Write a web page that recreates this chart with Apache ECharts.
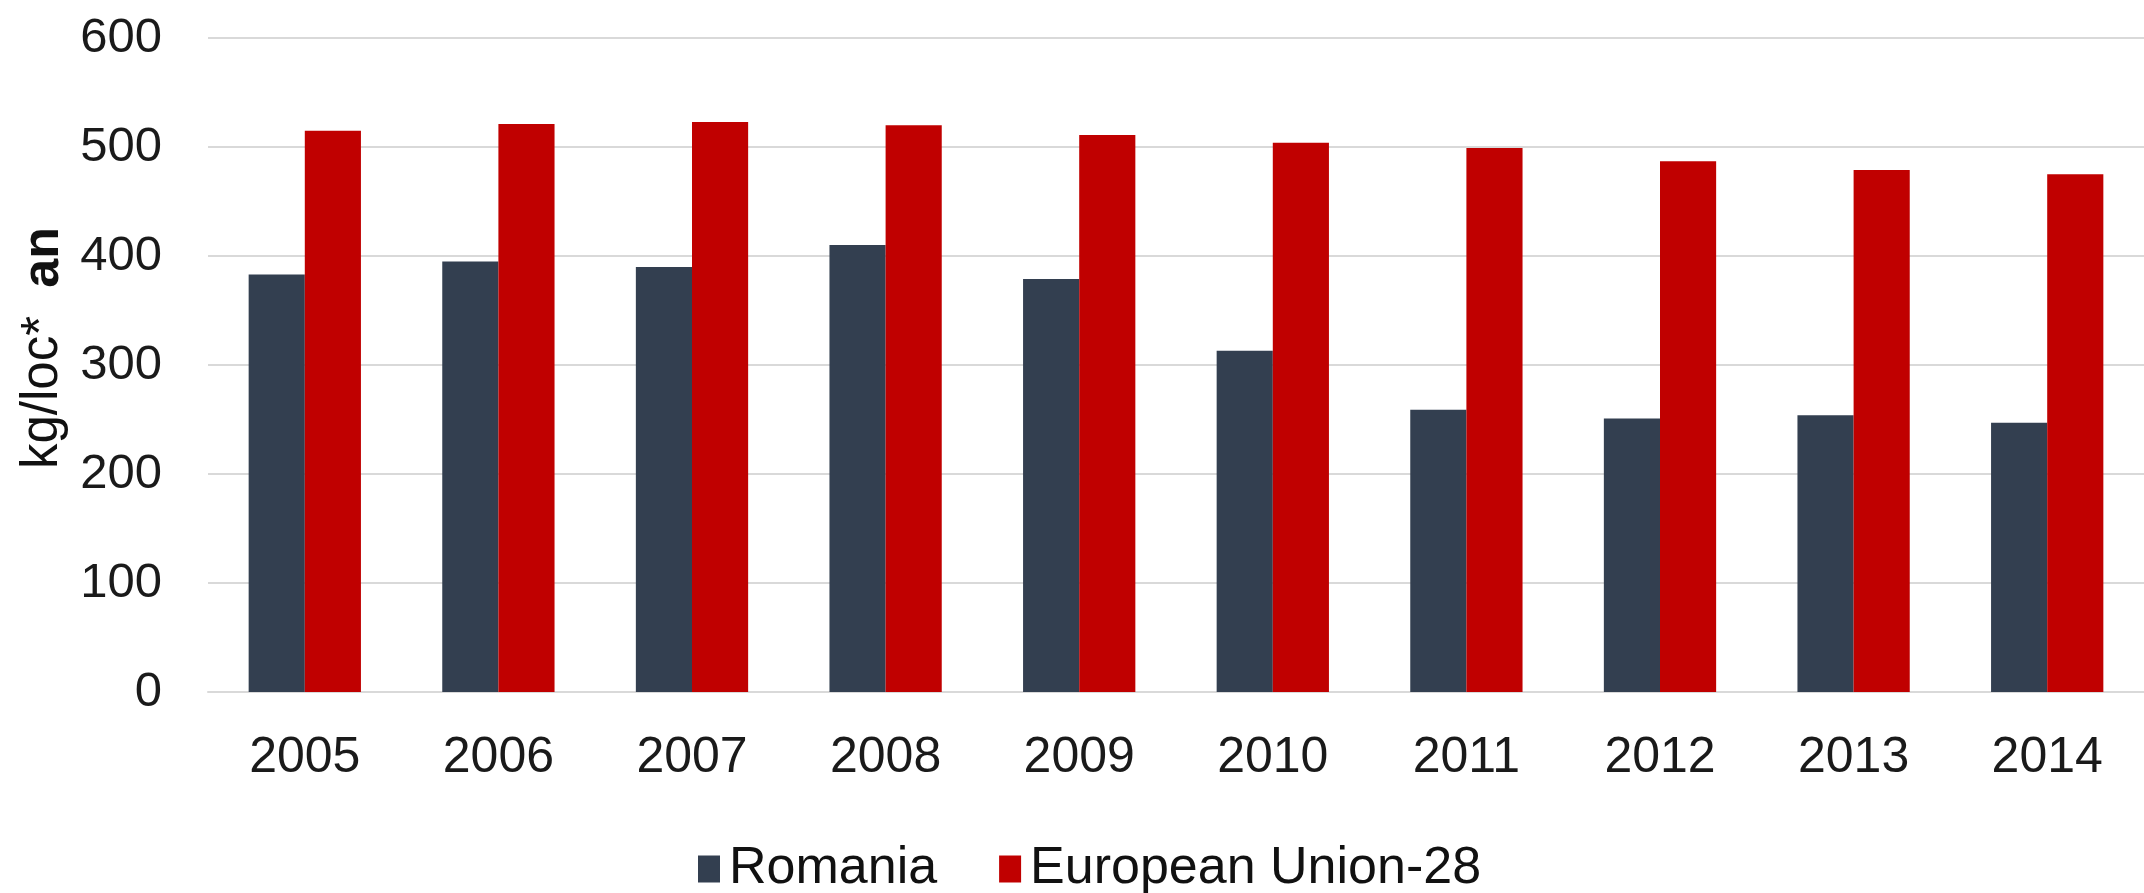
<!DOCTYPE html>
<html>
<head>
<meta charset="utf-8">
<script src="https://cdn.jsdelivr.net/npm/echarts@6/dist/echarts.min.js"></script>
<style>
  html, body { margin: 0; padding: 0; background: #fff; }
  #chart { width: 2144px; height: 893px; }
</style>
</head>
<body>
<div id="chart"></div>
<script>
const years = ['2005', '2006', '2007', '2008', '2009', '2010', '2011', '2012', '2013', '2014']
const romania = [383, 395, 390, 410, 379, 313, 259, 251, 254, 247]
const eu28 = [515, 521, 523, 520, 511, 504, 499, 487, 479, 475]
const seriesNames = ['Romania', 'European Union-28']

const chart = echarts.init(document.getElementById('chart'))
const font = '"Liberation Sans", Arial, sans-serif'

const option = {
  animation: false,
  textStyle: { fontFamily: font },
  grid: {
    left: 208,
    right: -5,
    top: 38,
    bottom: 201,
    containLabel: false
  },
  legend: {
    data: seriesNames,
    top: 838,
    left: 693,
    itemWidth: 22,
    itemHeight: 27,
    itemGap: 62,
    icon: 'rect',
    textStyle: { fontSize: 52, color: '#111', fontFamily: font, padding: [0, 0, 0, 4] }
  },
  xAxis: {
    type: 'category',
    data: years,
    axisTick: { show: false },
    axisLine: { lineStyle: { color: '#d9d9d9', width: 2 } },
    axisLabel: { fontSize: 50, color: '#1a1a1a', margin: 41, fontFamily: font }
  },
  yAxis: {
    type: 'value',
    min: 0,
    max: 600,
    interval: 100,
    name: '{n|kg/loc*\u00a0\u00a0}{b|an}',
    nameLocation: 'middle',
    nameRotate: 90,
    nameGap: 138,
    nameTextStyle: {
      padding: [0, 0, 0, 34],
      rich: {
        n: { fontSize: 51, color: '#111', fontFamily: font },
        b: { fontSize: 52, color: '#111', fontWeight: 'bold', fontFamily: font }
      }
    },
    axisLine: { show: false },
    axisTick: { show: false },
    splitLine: { lineStyle: { color: '#d9d9d9', width: 2 } },
    axisLabel: { fontSize: 49, color: '#1a1a1a', margin: 46, fontFamily: font }
  },
  series: [
    {
      name: seriesNames[0],
      type: 'bar',
      data: romania,
      barGap: '0%',
      barCategoryGap: '42%',
      itemStyle: { color: '#333f50' }
    },
    {
      name: seriesNames[1],
      type: 'bar',
      data: eu28,
      barGap: '0%',
      barCategoryGap: '42%',
      itemStyle: { color: '#c00000' }
    }
  ]
}

chart.setOption(option)
</script>
</body>
</html>
